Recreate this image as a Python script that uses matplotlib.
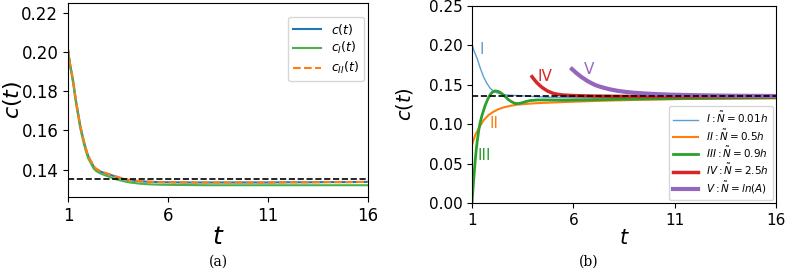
import matplotlib
matplotlib.use("Agg")
import matplotlib.pyplot as plt

# ---------------- data: panel (a) ----------------
t_a = [1, 1.1, 1.2, 1.27, 1.35, 1.43, 1.52, 1.6, 1.7, 1.77, 1.85, 1.93, 2.0, 2.1, 2.2, 2.27,
       2.4, 2.6, 2.8, 3.1, 3.35, 3.6, 3.85, 4.1, 4.6, 5.0, 5.5, 6.0, 7.0, 8.0, 9.0, 10.0,
       11.0, 12.0, 13.0, 14.0, 15.0, 16.0]
c_t = [0.2014, 0.194, 0.1885, 0.1844, 0.1785, 0.1733, 0.168, 0.163, 0.1585, 0.1554, 0.1522,
       0.1494, 0.1472, 0.1451, 0.1432, 0.1417, 0.1403, 0.1391, 0.1383, 0.1374, 0.1365, 0.1357,
       0.1350, 0.1345, 0.1340, 0.1338, 0.1336, 0.1335, 0.1334, 0.1334, 0.1334, 0.1334,
       0.1334, 0.1335, 0.1335, 0.1336, 0.1336, 0.1337]
c_I = [0.2010, 0.1932, 0.1875, 0.1832, 0.1772, 0.1720, 0.1667, 0.1617, 0.1572, 0.1542, 0.1510,
       0.1482, 0.1460, 0.1440, 0.1421, 0.1407, 0.1393, 0.1381, 0.1373, 0.1362, 0.1352, 0.1345,
       0.1339, 0.1334, 0.1328, 0.1325, 0.1323, 0.1322, 0.1321, 0.1320, 0.1320, 0.1320,
       0.1320, 0.1320, 0.1320, 0.1320, 0.1320, 0.1320]
c_II = [0.2016, 0.1942, 0.1887, 0.1846, 0.1787, 0.1735, 0.1682, 0.1632, 0.1587, 0.1556, 0.1524,
        0.1496, 0.1474, 0.1453, 0.1434, 0.1419, 0.1405, 0.1393, 0.1385, 0.1376, 0.1367, 0.1359,
        0.1352, 0.1346, 0.1341, 0.1338, 0.1336, 0.1335, 0.1334, 0.1334, 0.1334, 0.1334,
        0.1334, 0.1335, 0.1335, 0.1336, 0.1336, 0.1337]
c_ref = 0.1353

# ---------------- data: panel (b) ----------------
t_I = [1, 1.1, 1.25, 1.41, 1.57, 1.73, 1.9, 2.05, 2.31, 2.72, 3.0, 3.38, 3.8, 4.3, 5.0, 6.0,
       7.0, 8.0, 10.0, 12.0, 14.0, 16.0]
v_I = [0.2010, 0.1930, 0.1836, 0.1710, 0.1600, 0.1520, 0.1455, 0.1420, 0.1390, 0.1370, 0.1366,
       0.1362, 0.1355, 0.1348, 0.1340, 0.1334, 0.1332, 0.1332, 0.1333, 0.1334, 0.1335, 0.1336]

t_II = [1, 1.16, 1.33, 1.57, 1.82, 2.07, 2.3, 2.56, 2.9, 3.22, 3.7, 4.2, 4.8, 5.5, 6.5, 7.5,
        9.0, 11.0, 13.0, 16.0]
v_II = [0.0736, 0.0863, 0.0948, 0.1050, 0.1117, 0.1160, 0.1190, 0.1214, 0.1233, 0.1248, 0.1258,
        0.1267, 0.1274, 0.1281, 0.1290, 0.1298, 0.1308, 0.1318, 0.1325, 0.1332]

t_III = [1, 1.04, 1.08, 1.12, 1.16, 1.2, 1.25, 1.33, 1.41, 1.49, 1.57, 1.65, 1.74, 1.82, 1.9,
         2.0, 2.14, 2.31, 2.45, 2.56, 2.7, 2.8, 2.95, 3.13, 3.3, 3.46, 3.65, 3.87, 4.2, 4.7,
         5.5, 6.5, 8.0, 10.0, 12.0, 14.0, 16.0]
v_III = [0.0, 0.0150, 0.0290, 0.0420, 0.0546, 0.0655, 0.0770, 0.0920, 0.1030, 0.1110, 0.1175,
         0.1240, 0.1295, 0.1340, 0.1375, 0.1405, 0.1423, 0.1415, 0.1393, 0.1370, 0.1335, 0.1310,
         0.1285, 0.1263, 0.1262, 0.1272, 0.1287, 0.1300, 0.1307, 0.1308, 0.1305, 0.1308,
         0.1315, 0.1322, 0.1327, 0.1331, 0.1334]

t_IV = [3.96, 4.08, 4.2, 4.33, 4.45, 4.58, 4.7, 4.86, 5.02, 5.25, 5.51, 5.85, 6.17, 7.0, 8.0,
        10.0, 12.0, 14.0, 16.0]
v_IV = [0.1603, 0.1563, 0.1527, 0.1495, 0.1468, 0.1445, 0.1425, 0.1406, 0.1390, 0.1378, 0.1370,
        0.1365, 0.1362, 0.1357, 0.1354, 0.1351, 0.1350, 0.1349, 0.1349]

t_V = [5.93, 6.05, 6.17, 6.3, 6.42, 6.55, 6.67, 6.87, 7.08, 7.28, 7.49, 7.8, 8.15, 8.55, 8.96,
       9.45, 9.95, 10.8, 11.6, 12.5, 13.5, 14.5, 16.0]
v_V = [0.1700, 0.1672, 0.1645, 0.1619, 0.1595, 0.1573, 0.1552, 0.1524, 0.1497, 0.1479, 0.1463,
       0.1443, 0.1425, 0.1411, 0.1400, 0.1391, 0.1383, 0.1375, 0.1370, 0.1366, 0.1362, 0.1360,
       0.1358]

labels_b = ["$I: \\tilde{N} = 0.01h$", "$II: \\tilde{N} = 0.5h$", "$III: \\tilde{N} = 0.9h$",
            "$IV: \\tilde{N} = 2.5h$", "$V: \\tilde{N} = ln(A)$"]
roman = ["I", "II", "III", "IV", "V"]
roman_t = [1.49, 2.07, 1.58, 4.62, 6.76]
roman_v = [0.195, 0.1005, 0.060, 0.160, 0.170]

x_ticks = [1, 6, 11, 16]

# ---------------- figure ----------------
fig = plt.figure(figsize=(7.85, 2.70), dpi=100)
axA = fig.add_axes([0.0866, 0.2704, 0.3822, 0.7185])
axB = fig.add_axes([0.6013, 0.2481, 0.3872, 0.7297])

blue = "#1f77b4"
orange = "#ff7f0e"
green = "#2ca02c"
red = "#d62728"
purple = "#9467bd"

# panel (a)
axA.plot(t_a, c_t, color=blue, lw=1.5, label="$c(t)$")
axA.plot(t_a, c_I, color="#4cb04c", lw=1.5, label="$c_I(t)$")
axA.plot(t_a, c_II, color=orange, lw=1.5, ls="--", label="$c_{II}(t)$")
axA.axhline(c_ref, color="black", ls="--", lw=1.2)
axA.set_xlim(1, 16)
axA.set_ylim(0.126, 0.225)
axA.set_xticks(x_ticks)
axA.set_yticks([0.14, 0.16, 0.18, 0.20, 0.22])
axA.tick_params(labelsize=12)
axA.set_xlabel("$t$", fontsize=18, labelpad=0)
axA.set_ylabel("$c(t)$", fontsize=16)
axA.yaxis.set_label_coords(-0.148, 0.5)
axA.legend(loc="upper right", fontsize=9, labelspacing=0.3, handlelength=2.2,
           borderaxespad=0, bbox_to_anchor=(0.985, 0.93))

# panel (b)
colors_b = ["#5a9fd4", orange, green, red, purple]
widths_b = [1.0, 1.5, 2.0, 2.5, 3.0]
series_b = [(t_I, v_I), (t_II, v_II), (t_III, v_III), (t_IV, v_IV), (t_V, v_V)]
for (tt, vv), col, lw, lab in zip(series_b, colors_b, widths_b, labels_b):
    axB.plot(tt, vv, color=col, lw=lw, label=lab)
axB.plot([1, 16], [c_ref, c_ref], color="black", ls="--", lw=1.2, zorder=5)
for r, rt, rv, col in zip(roman, roman_t, roman_v, colors_b):
    axB.text(rt, rv, r, color=col, fontsize=11, ha="center", va="center")
axB.set_xlim(1, 16)
axB.set_ylim(0, 0.25)
axB.set_xticks(x_ticks)
axB.set_yticks([0.0, 0.05, 0.10, 0.15, 0.20, 0.25])
axB.tick_params(labelsize=11)
axB.set_xlabel("$t$", fontsize=15, labelpad=0)
axB.set_ylabel("$c(t)$", fontsize=14, labelpad=10)
axB.legend(loc="lower right", fontsize=7.5, handlelength=2.4, labelspacing=0.22,
           borderaxespad=0.3)

# captions
fig.text(0.278, 0.031, "(a)", family="DejaVu Serif", fontsize=10, ha="center", va="center")
fig.text(0.750, 0.031, "(b)", family="DejaVu Serif", fontsize=10, ha="center", va="center")

fig.savefig("out.png", dpi=100)
